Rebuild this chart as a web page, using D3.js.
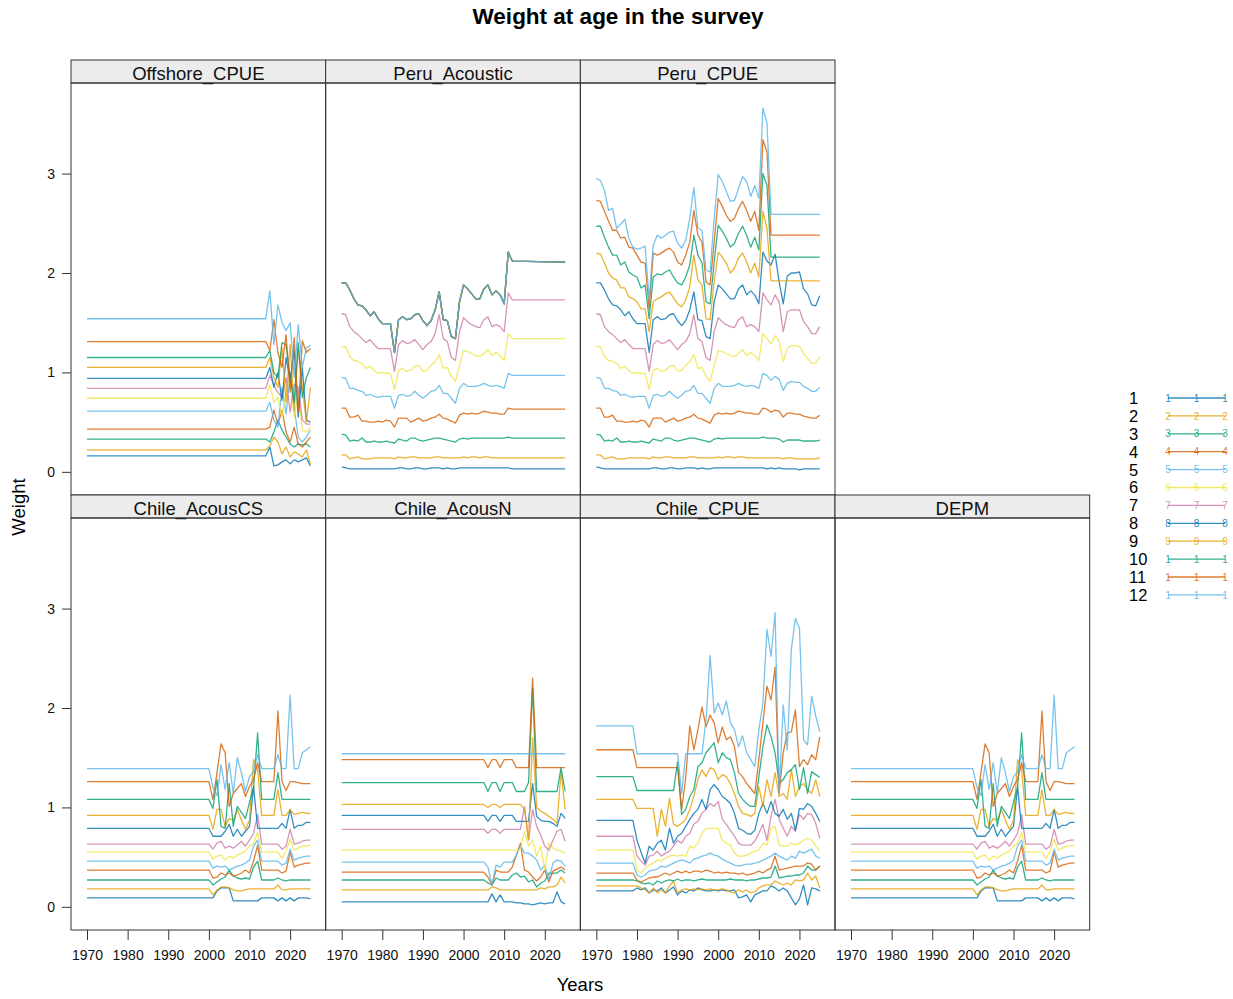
<!DOCTYPE html>
<html><head><meta charset="utf-8">
<script src="https://cdn.jsdelivr.net/npm/d3@7"></script>
<style>body{margin:0;background:#fff} text{font-family:"Liberation Sans",Arial,Helvetica,sans-serif}</style>
</head><body><svg id="c" width="1233" height="999"></svg>
<script>
// ---------- categories / ticks ----------
const ages = ["1","2","3","4","5","6","7","8","9","10","11","12"];
const ageColors = ["#0072B2","#E69F00","#009E73","#D55E00","#56B4E9","#F0E442","#CC79A7","#0072B2","#E69F00","#009E73","#D55E00","#56B4E9"];
const xTicks = [1970,1980,1990,2000,2010,2020];
const yTicks = [0,1,2,3];

// ---------- Offshore_CPUE (years: 1970, 2014..2025) ----------
const offshoreYears = [1970,2014,2015,2016,2017,2018,2019,2020,2021,2022,2023,2024,2025];
const offshoreCPUE = [
 [0.16,0.16,0.25,0.06,0.07,0.10,0.12,0.08,0.12,0.10,0.12,0.14,0.06],
 [0.22,0.22,0.26,0.35,0.30,0.18,0.25,0.15,0.20,0.18,0.15,0.22,0.08],
 [0.33,0.33,0.30,0.40,0.52,0.42,0.35,0.28,0.25,0.28,0.27,0.28,0.25],
 [0.43,0.43,0.45,0.62,0.48,0.62,0.40,0.30,0.45,0.28,0.25,0.30,0.35],
 [0.61,0.61,0.70,0.52,0.45,0.85,0.58,1.00,0.65,0.35,0.30,0.35,0.42],
 [0.74,0.74,0.88,0.70,0.75,0.55,0.82,0.92,0.55,0.80,0.42,0.40,0.45],
 [0.84,0.84,0.97,0.87,0.80,0.75,0.95,0.60,0.88,0.85,0.52,0.48,0.48],
 [0.94,0.94,1.05,0.85,1.00,0.72,1.15,0.92,1.22,0.55,1.05,0.52,0.50],
 [1.05,1.05,1.15,0.95,0.85,1.25,0.70,1.28,0.62,1.25,0.85,0.50,0.85],
 [1.15,1.15,1.22,1.00,0.95,1.30,1.28,0.95,0.70,1.30,0.75,0.95,1.05],
 [1.31,1.31,1.22,1.53,1.20,1.05,1.38,0.80,1.35,0.60,1.32,1.20,1.24],
 [1.54,1.54,1.82,1.28,1.68,1.50,1.42,1.50,0.95,1.48,1.05,1.25,1.27]
];

// ---------- Peru_Acoustic (years: 1970..2012, 2025) ----------
const peruAcYears = d3.range(1970, 2013).concat([2025]);
const peruA1 = [0.05,0.04,0.03,0.03,0.03,0.03,0.03,0.03,0.03,0.03, 0.03,0.03,0.03,0.03,0.04,0.04,0.03,0.03,0.04,0.04, 0.03,0.03,0.04,0.04,0.04,0.03,0.04,0.03,0.03,0.04, 0.04,0.04,0.04,0.04,0.04,0.04,0.04,0.04,0.04,0.04, 0.04,0.04,0.03, 0.03];
const peruA2 = [0.17,0.17,0.13,0.14,0.15,0.13,0.13,0.13,0.14,0.14, 0.14,0.14,0.14,0.13,0.15,0.14,0.14,0.15,0.15,0.14, 0.14,0.14,0.14,0.15,0.15,0.14,0.14,0.14,0.14,0.14, 0.15,0.14,0.15,0.15,0.14,0.15,0.15,0.14,0.14,0.14, 0.14,0.14,0.14, 0.14];
const peruA3 = [0.38,0.37,0.31,0.32,0.31,0.34,0.30,0.30,0.31,0.30, 0.30,0.31,0.30,0.29,0.33,0.32,0.31,0.34,0.34,0.32, 0.31,0.32,0.33,0.34,0.34,0.33,0.32,0.31,0.30,0.33, 0.34,0.33,0.34,0.34,0.34,0.34,0.34,0.34,0.34,0.34, 0.34,0.35,0.34, 0.34];
const peruA4 = [0.64,0.64,0.55,0.55,0.57,0.51,0.51,0.50,0.50,0.51, 0.50,0.52,0.51,0.45,0.54,0.54,0.54,0.50,0.52,0.54, 0.51,0.52,0.54,0.55,0.58,0.54,0.53,0.51,0.49,0.57, 0.59,0.58,0.59,0.58,0.59,0.61,0.60,0.59,0.59,0.58, 0.58,0.64,0.63, 0.63];
const peruA5 = [0.95,0.94,0.84,0.84,0.82,0.81,0.77,0.78,0.76,0.75, 0.76,0.76,0.76,0.64,0.77,0.78,0.76,0.77,0.81,0.77, 0.74,0.77,0.81,0.82,0.87,0.79,0.79,0.74,0.69,0.84, 0.89,0.86,0.86,0.86,0.87,0.89,0.87,0.86,0.87,0.86, 0.84,0.99,0.97, 0.97];
const peruA6 = [1.26,1.26,1.16,1.12,1.11,1.09,1.04,1.06,1.02,0.99, 1.00,0.99,0.99,0.83,1.02,1.04,1.01,1.02,1.06,1.07, 1.01,1.02,1.07,1.11,1.18,1.04,1.05,0.96,0.91,1.07, 1.22,1.21,1.19,1.17,1.16,1.19,1.23,1.17,1.20,1.17, 1.12,1.39,1.34, 1.34];
const peruA7 = [1.59,1.58,1.46,1.41,1.38,1.34,1.30,1.33,1.28,1.24, 1.24,1.24,1.24,1.01,1.28,1.32,1.29,1.30,1.33,1.28, 1.23,1.28,1.31,1.39,1.58,1.34,1.31,1.15,1.12,1.41, 1.55,1.51,1.48,1.46,1.45,1.53,1.56,1.46,1.48,1.46, 1.41,1.80,1.73, 1.73];
// ages 8-12 coincide in this survey
const peruA8to12 = [1.90,1.90,1.83,1.74,1.68,1.67,1.63,1.57,1.61,1.54, 1.49,1.49,1.49,1.20,1.53,1.56,1.53,1.54,1.58,1.59, 1.52,1.47,1.52,1.63,1.81,1.53,1.52,1.36,1.34,1.71, 1.88,1.84,1.79,1.74,1.74,1.84,1.88,1.78,1.82,1.78, 1.69,2.21,2.12, 2.11];

// ---------- Peru_CPUE ----------
// ages 1-8: same as Peru_Acoustic 1970..2012, then these values 2013..2025
const peruCpueTail = [
 [0.04,0.03,0.04,0.03,0.03,0.03,0.03,0.02,0.03,0.03,0.03,0.03,0.03],
 [0.14,0.14,0.14,0.13,0.14,0.14,0.13,0.13,0.13,0.13,0.13,0.13,0.14],
 [0.34,0.34,0.33,0.30,0.32,0.32,0.32,0.32,0.31,0.31,0.31,0.31,0.32],
 [0.60,0.62,0.61,0.55,0.59,0.59,0.58,0.58,0.56,0.55,0.54,0.54,0.57],
 [0.92,0.96,0.93,0.82,0.89,0.91,0.90,0.90,0.86,0.84,0.81,0.81,0.85],
 [1.29,1.37,1.31,1.11,1.24,1.27,1.27,1.26,1.19,1.14,1.09,1.09,1.16],
 [1.68,1.78,1.71,1.41,1.61,1.63,1.63,1.63,1.51,1.46,1.39,1.39,1.46],
 [2.08,2.19,1.91,1.69,1.97,2.00,2.00,2.01,1.84,1.79,1.68,1.67,1.77]
];
// ages 9-12 (years: 1970..2013, 2025)
const peruCpueHighYears = d3.range(1970, 2014).concat([2025]);
const peruCpueHigh = [
 [2.20,2.19,2.10,2.00,1.95,1.93,1.85,1.85,1.76,1.74, 1.71,1.64,1.64,1.41,1.71,1.74,1.76,1.79,1.81,1.75, 1.69,1.66,1.73,1.86,2.18,1.93,1.88,1.54,1.53,1.91, 2.21,2.16,2.10,2.00,2.05,2.15,2.20,2.11,2.00,2.10, 1.96,2.62,2.45, 1.92,1.92],
 [2.47,2.47,2.36,2.26,2.18,2.18,2.08,2.11,2.01,1.98, 1.96,1.85,1.88,1.54,1.96,1.99,1.98,2.01,2.03,1.96, 1.90,1.88,1.96,2.08,2.38,2.18,2.10,1.71,1.69,2.11, 2.48,2.42,2.35,2.26,2.30,2.40,2.47,2.38,2.26,2.36, 2.23,3.00,2.88, 2.16,2.16],
 [2.73,2.72,2.62,2.52,2.43,2.43,2.35,2.36,2.26,2.25, 2.18,2.11,2.10,1.64,2.20,2.18,2.20,2.23,2.25,2.21, 2.11,2.08,2.18,2.31,2.63,2.38,2.31,1.91,1.88,2.31, 2.75,2.67,2.58,2.52,2.55,2.65,2.72,2.63,2.52,2.62, 2.43,3.34,3.22, 2.38,2.38],
 [2.95,2.93,2.83,2.63,2.65,2.45,2.49,2.54,2.35,2.26, 2.24,2.25,2.27,1.74,2.28,2.38,2.35,2.38,2.41,2.42, 2.30,2.25,2.33,2.55,2.86,2.45,2.43,2.03,2.01,2.55, 2.99,2.92,2.82,2.72,2.73,2.85,2.97,2.92,2.77,2.88, 2.75,3.66,3.51, 2.59,2.59]
];

// ---------- Chile_AcousCS (years: 1970, 2000..2025); DEPM shows the same values ----------
const acousCSYears = [1970].concat(d3.range(2000, 2026));
const chileAcousCS = [
 [0.09,0.09, 0.09,0.16,0.19,0.19,0.19,0.06,0.06,0.06,0.06, 0.06,0.06,0.06,0.09,0.09,0.09,0.09,0.06,0.09,0.06, 0.09,0.06,0.09,0.09,0.09,0.08],
 [0.18,0.18, 0.12,0.17,0.20,0.20,0.19,0.17,0.16,0.16,0.17, 0.18,0.18,0.18,0.18,0.18,0.18,0.18,0.22,0.17,0.17, 0.18,0.18,0.18,0.18,0.18,0.18],
 [0.27,0.27, 0.22,0.25,0.28,0.30,0.37,0.31,0.29,0.28,0.29, 0.28,0.40,0.46,0.27,0.27,0.27,0.27,0.29,0.27,0.26, 0.27,0.27,0.27,0.27,0.27,0.27],
 [0.37,0.37, 0.29,0.30,0.34,0.32,0.34,0.31,0.32,0.34,0.37, 0.34,0.46,0.62,0.37,0.37,0.37,0.37,0.37,0.34,0.36, 0.55,0.40,0.42,0.43,0.44,0.44],
 [0.46,0.46, 0.39,0.41,0.40,0.41,0.37,0.39,0.41,0.42,0.44, 0.47,0.61,0.67,0.46,0.46,0.46,0.46,0.46,0.42,0.44, 0.58,0.47,0.49,0.50,0.51,0.51],
 [0.55,0.55, 0.48,0.51,0.52,0.47,0.51,0.49,0.52,0.54,0.56, 0.61,0.64,0.75,0.55,0.55,0.55,0.55,0.55,0.49,0.56, 0.68,0.57,0.59,0.61,0.61,0.62],
 [0.63,0.63, 0.58,0.64,0.66,0.59,0.61,0.59,0.62,0.66,0.61, 0.67,0.74,0.93,0.63,0.63,0.63,0.63,0.63,0.58,0.61, 0.78,0.63,0.64,0.66,0.67,0.67],
 [0.79,0.79, 0.71,0.71,0.71,0.76,0.83,0.71,0.78,0.71,0.76, 0.81,1.21,0.79,0.79,0.79,0.79,0.79,0.79,0.84,0.79, 0.98,0.79,0.82,0.82,0.85,0.85],
 [0.92,0.92, 0.78,0.98,0.98,0.81,0.89,0.87,0.98,0.87,0.78, 0.87,1.48,1.38,0.92,0.92,0.92,0.92,1.18,0.92,0.92, 0.98,0.93,0.94,0.95,0.94,0.94],
 [1.08,1.08, 0.99,1.28,0.81,0.79,1.24,0.81,1.01,0.95,0.89, 1.05,1.20,1.75,1.08,1.08,1.08,1.08,1.35,1.08,1.08, 1.08,1.08,1.08,1.08,1.08,1.08],
 [1.26,1.26, 1.08,1.35,1.64,1.55,1.01,1.14,1.19,1.24,1.11, 1.21,1.28,1.45,1.26,1.26,1.26,1.26,1.97,1.26,1.17, 1.26,1.26,1.25,1.24,1.24,1.24],
 [1.39,1.39, 1.20,1.12,1.43,1.18,1.45,1.14,1.50,1.35,1.16, 1.31,1.36,1.53,1.39,1.39,1.39,1.39,1.53,1.39,1.39, 2.13,1.39,1.39,1.55,1.58,1.61]
];

// ---------- Chile_AcousN (years: 1970, 2005..2025) ----------
const acousNYears = [1970].concat(d3.range(2005, 2026));
const chileAcousN = [
 [0.05,0.05, 0.05,0.13,0.05,0.12,0.05,0.05,0.05,0.04,0.04,0.03, 0.03,0.02,0.03,0.04,0.03,0.04,0.04,0.15,0.05,0.03],
 [0.17,0.17, 0.17,0.20,0.19,0.17,0.17,0.17,0.17,0.17,0.17,0.17, 0.17,0.17,0.17,0.19,0.18,0.20,0.20,0.22,0.30,0.24],
 [0.27,0.27, 0.24,0.22,0.29,0.27,0.27,0.27,0.32,0.34,0.30,0.31, 0.25,0.27,0.20,0.24,0.26,0.34,0.34,0.34,0.37,0.34],
 [0.35,0.35, 0.30,0.22,0.37,0.35,0.35,0.35,0.40,0.52,0.64,0.37, 0.35,0.30,0.26,0.30,0.37,0.25,0.36,0.38,0.40,0.37],
 [0.45,0.45, 0.40,0.22,0.42,0.40,0.45,0.45,0.45,0.52,0.62,0.54, 0.54,0.51,0.47,0.37,0.42,0.27,0.44,0.47,0.46,0.41],
 [0.57,0.57, 0.57,0.57,0.57,0.57,0.57,0.57,0.57,0.57,0.57,0.76, 0.61,0.67,0.51,0.61,0.37,0.64,0.59,0.57,0.56,0.54],
 [0.78,0.78, 0.74,0.78,0.78,0.74,0.78,0.78,0.78,0.78,0.78,1.01, 0.67,0.98,0.81,0.72,0.61,0.57,0.67,0.76,0.78,0.66],
 [0.92,0.92, 0.86,0.92,0.92,0.86,0.92,0.92,0.92,0.86,0.86,0.86, 0.86,1.24,0.91,0.87,0.86,0.86,0.84,0.81,0.94,0.89],
 [1.03,1.03, 1.00,1.03,1.03,1.00,1.03,1.03,1.03,1.03,1.03,0.98, 0.68,1.70,1.00,0.96,0.94,0.91,0.88,0.84,1.36,0.98],
 [1.25,1.25, 1.16,1.25,1.25,1.16,1.25,1.25,1.25,1.16,1.16,1.16, 1.25,2.20,1.16,1.16,1.16,1.16,1.16,1.16,1.40,1.16],
 [1.48,1.48, 1.40,1.48,1.48,1.40,1.48,1.48,1.48,1.40,1.40,1.40, 1.40,2.30,1.40,1.40,1.40,1.40,1.40,1.40,1.40,1.40],
 [1.54,1.54, 1.54,1.54,1.54,1.54,1.54,1.54,1.54,1.54,1.54,1.54, 1.54,1.54,1.54,1.54,1.54,1.54,1.54,1.54,1.54,1.54]
];

// ---------- Chile_CPUE (years: 1970, 1979..2025) ----------
const chileCpueYears = [1970].concat(d3.range(1979, 2026));
const chileCPUE = [
 [0.16,0.16, 0.19,0.17,0.19,0.14,0.17,0.16,0.19,0.14,0.17,0.20, 0.12,0.16,0.14,0.17,0.16,0.19,0.17,0.16,0.16,0.17, 0.16,0.17,0.16,0.16,0.17,0.09,0.10,0.12,0.05,0.12, 0.14,0.16,0.16,0.21,0.19,0.16,0.19,0.16,0.09,0.02, 0.08,0.22,0.02,0.19,0.18,0.16],
 [0.21,0.21, 0.21,0.19,0.17,0.14,0.19,0.14,0.17,0.14,0.21,0.26, 0.14,0.17,0.18,0.17,0.18,0.17,0.18,0.17,0.18,0.17, 0.17,0.18,0.17,0.15,0.14,0.17,0.15,0.17,0.14,0.15, 0.19,0.21,0.22,0.22,0.26,0.24,0.22,0.24,0.22,0.27, 0.26,0.27,0.34,0.27,0.31,0.19],
 [0.27,0.27, 0.26,0.24,0.23,0.24,0.22,0.26,0.24,0.26,0.27,0.26, 0.28,0.26,0.27,0.27,0.26,0.27,0.28,0.27,0.27,0.27, 0.27,0.27,0.27,0.28,0.27,0.27,0.27,0.26,0.27,0.27, 0.28,0.29,0.29,0.30,0.41,0.29,0.30,0.31,0.31,0.32, 0.32,0.34,0.41,0.37,0.37,0.41],
 [0.34,0.34, 0.27,0.25,0.27,0.29,0.30,0.30,0.32,0.34,0.32,0.34, 0.36,0.34,0.36,0.34,0.36,0.36,0.35,0.37,0.36,0.34, 0.35,0.34,0.35,0.34,0.34,0.33,0.34,0.32,0.33,0.34, 0.36,0.34,0.37,0.39,0.51,0.37,0.38,0.39,0.40,0.41, 0.41,0.41,0.44,0.43,0.37,0.41],
 [0.44,0.44, 0.32,0.30,0.32,0.36,0.37,0.38,0.41,0.40,0.42,0.44, 0.46,0.47,0.46,0.44,0.48,0.49,0.51,0.52,0.54,0.52, 0.51,0.48,0.46,0.44,0.42,0.41,0.42,0.43,0.43,0.44, 0.45,0.47,0.49,0.51,0.54,0.51,0.49,0.47,0.51,0.49, 0.56,0.54,0.56,0.58,0.51,0.49],
 [0.57,0.57, 0.37,0.34,0.39,0.42,0.44,0.47,0.46,0.49,0.51,0.52, 0.51,0.52,0.51,0.61,0.59,0.64,0.74,0.79,0.79,0.79, 0.79,0.67,0.64,0.62,0.54,0.51,0.51,0.52,0.54,0.56, 0.57,0.64,0.62,0.79,0.81,0.62,0.61,0.61,0.64,0.62, 0.64,0.67,0.69,0.67,0.61,0.56],
 [0.71,0.71, 0.51,0.46,0.42,0.51,0.52,0.56,0.51,0.54,0.56,0.61, 0.67,0.64,0.71,0.74,0.83,0.86,0.94,0.98,1.04,1.01, 1.06,0.88,0.83,0.77,0.71,0.64,0.62,0.62,0.62,0.66, 0.74,0.83,0.67,0.91,1.08,0.88,0.79,0.71,0.81,0.76, 0.93,0.88,0.94,0.93,0.84,0.69],
 [0.87,0.87, 0.67,0.55,0.44,0.61,0.57,0.64,0.67,0.57,0.79,0.64, 0.71,0.74,0.81,0.88,0.94,0.98,1.08,0.98,1.18,1.23, 1.18,1.11,1.08,1.04,0.94,0.79,0.77,0.74,0.73,0.77, 0.94,1.04,0.94,1.06,0.94,0.91,0.98,0.88,0.94,0.77, 0.99,0.98,1.04,1.01,0.94,0.86],
 [1.08,1.08, 0.99,0.99,0.99,0.99,0.99,0.71,0.98,0.81,1.09,0.83, 0.81,0.84,0.88,0.98,1.11,1.28,1.38,1.31,1.40,1.38, 1.28,1.33,1.31,1.24,1.14,1.01,0.94,0.93,0.91,0.94, 1.21,1.01,1.28,1.11,1.35,1.11,1.14,1.08,1.38,1.11, 1.21,1.24,1.18,1.14,1.28,1.11],
 [1.31,1.31, 1.17,1.17,1.17,1.17,1.17,1.17,1.17,1.17,1.17,1.17, 1.46,0.93,0.98,1.11,1.18,1.41,1.45,1.55,1.60,1.65, 1.45,1.55,1.50,1.48,1.35,1.14,1.08,1.04,1.01,1.01, 1.31,1.61,1.83,1.71,1.55,1.24,1.28,1.35,1.38,1.43, 1.18,1.40,1.14,1.36,1.33,1.30],
 [1.58,1.58, 1.40,1.40,1.40,1.40,1.40,1.40,1.40,1.40,1.40,1.40, 1.40,0.98,1.30,1.82,1.58,1.78,2.01,1.81,1.93,1.85, 1.65,1.81,1.68,1.71,1.61,1.35,1.31,1.24,1.19,1.14, 1.48,1.85,2.22,2.08,2.41,1.14,1.55,1.75,1.76,1.98, 1.41,1.48,1.43,1.53,1.48,1.71],
 [1.82,1.82, 1.54,1.54,1.54,1.54,1.54,1.54,1.54,1.54,1.54,1.54, 1.54,1.14,1.54,1.54,1.54,1.54,1.54,1.88,2.53,1.95, 2.05,1.93,2.07,1.85,1.78,1.61,1.72,1.55,1.48,1.41, 1.78,2.05,2.79,2.52,2.96,1.14,2.03,1.58,2.59,2.90, 2.80,1.68,1.63,2.12,1.92,1.76]
];

// ---------- assemble panels ----------
const peruAcoustic = [peruA1,peruA2,peruA3,peruA4,peruA5,peruA6,peruA7,peruA8to12,peruA8to12,peruA8to12,peruA8to12,peruA8to12];
const mk = (years, arr) => arr.map(v => ({years, values: v}));
const peruCpueSeries = [];
const peruFullYears = d3.range(1970, 2026);
for (let i = 0; i < 8; i++) {
  peruCpueSeries.push({years: peruFullYears, values: peruAcoustic[i].slice(0, 43).concat(peruCpueTail[i])});
}
for (let i = 0; i < 4; i++) peruCpueSeries.push({years: peruCpueHighYears, values: peruCpueHigh[i]});

const panels = [
  {name:"Offshore_CPUE", row:0, col:0, series: mk(offshoreYears, offshoreCPUE)},
  {name:"Peru_Acoustic", row:0, col:1, series: mk(peruAcYears, peruAcoustic)},
  {name:"Peru_CPUE",     row:0, col:2, series: peruCpueSeries},
  {name:"Chile_AcousCS", row:1, col:0, series: mk(acousCSYears, chileAcousCS)},
  {name:"Chile_AcousN",  row:1, col:1, series: mk(acousNYears, chileAcousN)},
  {name:"Chile_CPUE",    row:1, col:2, series: mk(chileCpueYears, chileCPUE)},
  {name:"DEPM",          row:1, col:3, series: mk(acousCSYears, chileAcousCS)}
];

// ---------- layout ----------
const svg = d3.select("#c");
const colLeft = 71, colStep = 254.67, panelW = 254.67, panelH = 412;
const rowTop = [83, 518];
const stripH = 23;
const x = d3.scaleLinear().domain([1966.06, 2028.75]).range([0, panelW]);
const y = d3.scaleLinear().domain([-0.233, 3.911]).range([panelH, 0]);
const line = d3.line().x(d => x(d[0])).y(d => y(d[1]));

panels.forEach((p, pi) => {
  const g = svg.append("g").attr("transform", `translate(${colLeft + p.col*colStep},${rowTop[p.row]})`);
  g.append("rect").attr("x",0).attr("y",-stripH).attr("width",panelW).attr("height",stripH)
    .attr("fill","#ececec").attr("stroke","#333").attr("stroke-width",1);
  g.append("text").attr("x",panelW/2).attr("y",-3.5).attr("text-anchor","middle")
    .style("font-size","18.5px").attr("fill","#111").text(p.name);
  const cid = "clip"+pi;
  g.append("clipPath").attr("id",cid).append("rect").attr("width",panelW).attr("height",panelH);
  const lg = g.append("g").attr("clip-path",`url(#${cid})`);
  p.series.forEach((s, i) => {
    const pts = s.years.map((yr, k) => [yr, s.values[k]]);
    lg.append("path").attr("d", line(pts)).attr("fill","none")
      .attr("stroke", ageColors[i]).attr("stroke-width",1.3).attr("stroke-opacity",0.8)
      .attr("stroke-linejoin","round");
  });
  g.append("rect").attr("width",panelW).attr("height",panelH).attr("fill","none")
    .attr("stroke","#333").attr("stroke-width",1);
  if (p.col === 0) {
    const ax = g.append("g").call(d3.axisLeft(y).tickValues(yTicks).tickSize(9).tickPadding(7).tickFormat(d3.format("d")));
    ax.select(".domain").remove();
    ax.selectAll("line").attr("stroke","#333");
    ax.selectAll("text").style("font-size","14px").attr("fill","#111").style("font-family",'"Liberation Sans",Arial,sans-serif');
  }
  if (p.row === 1) {
    const ax = g.append("g").attr("transform",`translate(0,${panelH})`)
      .call(d3.axisBottom(x).tickValues(xTicks).tickSize(10).tickPadding(10).tickFormat(d3.format("d")));
    ax.select(".domain").remove();
    ax.selectAll("line").attr("stroke","#333");
    ax.selectAll("text").style("font-size","14px").attr("fill","#111").style("font-family",'"Liberation Sans",Arial,sans-serif');
  }
});

// ---------- titles ----------
svg.append("text").attr("x",618).attr("y",24).attr("text-anchor","middle")
  .style("font-size","22.5px").style("font-weight","bold").text("Weight at age in the survey");
svg.append("text").attr("x",580).attr("y",991).attr("text-anchor","middle")
  .style("font-size","18.5px").text("Years");
svg.append("text").attr("transform","translate(25,507) rotate(-90)").attr("text-anchor","middle")
  .style("font-size","18.5px").text("Weight");

// ---------- legend ----------
const leg = svg.append("g");
const legY0 = 398, legStep = 17.9;
ages.forEach((a, i) => {
  const yy = legY0 + i*legStep;
  leg.append("text").attr("x",1129).attr("y",yy).attr("dy","0.36em").style("font-size","16.5px").text(a);
  leg.append("line").attr("x1",1168).attr("x2",1225).attr("y1",yy).attr("y2",yy)
    .attr("stroke",ageColors[i]).attr("stroke-width",1.3).attr("stroke-opacity",0.8);
  [1168,1196.5,1225].forEach(px => {
    leg.append("text").attr("x",px).attr("y",yy).attr("dy","0.36em").attr("text-anchor","middle")
      .style("font-size","10px").attr("fill",ageColors[i]).attr("fill-opacity",0.85).text(a.charAt(0));
  });
});
</script></body></html>
